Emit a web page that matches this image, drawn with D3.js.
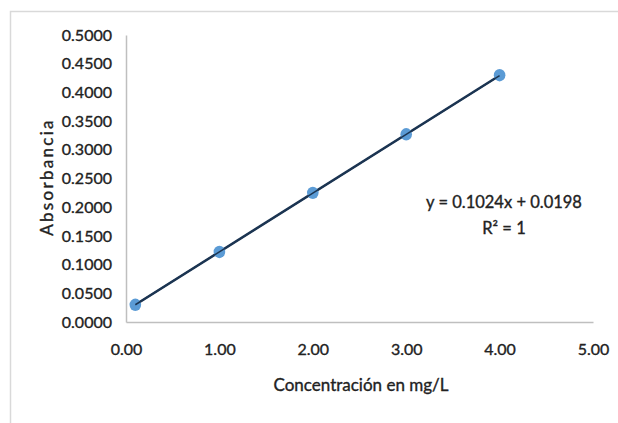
<!DOCTYPE html>
<html>
<head>
<meta charset="utf-8">
<script src="https://cdn.jsdelivr.net/npm/d3@7"></script>
<style>
  html, body { margin: 0; padding: 0; background: #fff; }
  svg { display: block; }
  text { font-family: Lato, "Open Sans", sans-serif; fill: #222; stroke: #222; stroke-width: 0.35px; }
</style>
</head>
<body>
<svg id="chart" width="618" height="423"></svg>
<script>
// ---- data ----
const concentrations = [0.1, 1, 2, 3, 4];
const absorbance = [0.030, 0.122, 0.225, 0.327, 0.430];
const xTicks = [0, 1, 2, 3, 4, 5];
const yTicks = [0, 0.05, 0.1, 0.15, 0.2, 0.25, 0.3, 0.35, 0.4, 0.45, 0.5];
const slope = 0.1024;
const intercept = 0.0198;
const equationLabel = "y = 0.1024x + 0.0198";
const r2Label = "R² = 1";
const xTitle = "Concentración en mg/L";
const yTitle = "Absorbancia";

const svg = d3.select("#chart");

// frame (chart area border, cropped on right/bottom)
svg.append("rect")
  .attr("x", 10.5).attr("y", 11.5)
  .attr("width", 640).attr("height", 440)
  .attr("fill", "#fff").attr("stroke", "#d9d9d9").attr("stroke-width", 1.5);

const x = d3.scaleLinear().domain([0, 5]).range([126, 593]);
const y = d3.scaleLinear().domain([0, 0.5]).range([322, 35]);

// axes
const yAxis = d3.axisLeft(y).tickValues(yTicks).tickSize(0).tickPadding(14)
  .tickFormat(d3.format(".4f"));
const xAxis = d3.axisBottom(x).tickValues(xTicks).tickSize(0).tickPadding(22)
  .tickFormat(d3.format(".2f"));

const gy = svg.append("g").attr("transform", `translate(${x(0)},0)`).call(yAxis);
const gx = svg.append("g").attr("transform", `translate(0,${y(0)})`).call(xAxis);

[gx, gy].forEach(g => {
  g.select(".domain").attr("stroke", "#bfbfbf").attr("stroke-width", 1.5);
  g.selectAll(".tick text")
    .style("font-family", "Lato, 'Open Sans', sans-serif")
    .style("font-size", "16px")
    .attr("fill", "#222");
});

// trendline
const xMin = d3.min(concentrations), xMax = d3.max(concentrations);
svg.append("line")
  .attr("x1", x(xMin)).attr("y1", y(slope * xMin + intercept))
  .attr("x2", x(xMax)).attr("y2", y(slope * xMax + intercept))
  .attr("stroke", "#1c3552").attr("stroke-width", 2.5);

// points
svg.append("g").selectAll("ellipse")
  .data(concentrations.map((c, i) => [c, absorbance[i]]))
  .join("ellipse")
  .attr("cx", d => x(d[0])).attr("cy", d => y(d[1]))
  .attr("rx", 5.8).attr("ry", 6.2)
  .attr("fill", "#5b9bd5");

// trendline drawn over markers
svg.append("line")
  .attr("x1", x(xMin)).attr("y1", y(slope * xMin + intercept))
  .attr("x2", x(xMax)).attr("y2", y(slope * xMax + intercept))
  .attr("stroke", "#1c3552").attr("stroke-width", 1.5);

// equation
svg.append("text").attr("x", 504).attr("y", 208)
  .attr("text-anchor", "middle").style("font-size", "16.5px").text(equationLabel);
svg.append("text").attr("x", 504).attr("y", 234)
  .attr("text-anchor", "middle").style("font-size", "16.5px").text(r2Label);

// axis titles
svg.append("text").attr("x", 361).attr("y", 391)
  .attr("text-anchor", "middle").style("font-size", "17px").text(xTitle);
svg.append("text")
  .attr("transform", "translate(53,177) rotate(-90)")
  .attr("text-anchor", "middle").style("font-size", "17px")
  .style("letter-spacing", "2.3px").text(yTitle);
</script>
</body>
</html>
